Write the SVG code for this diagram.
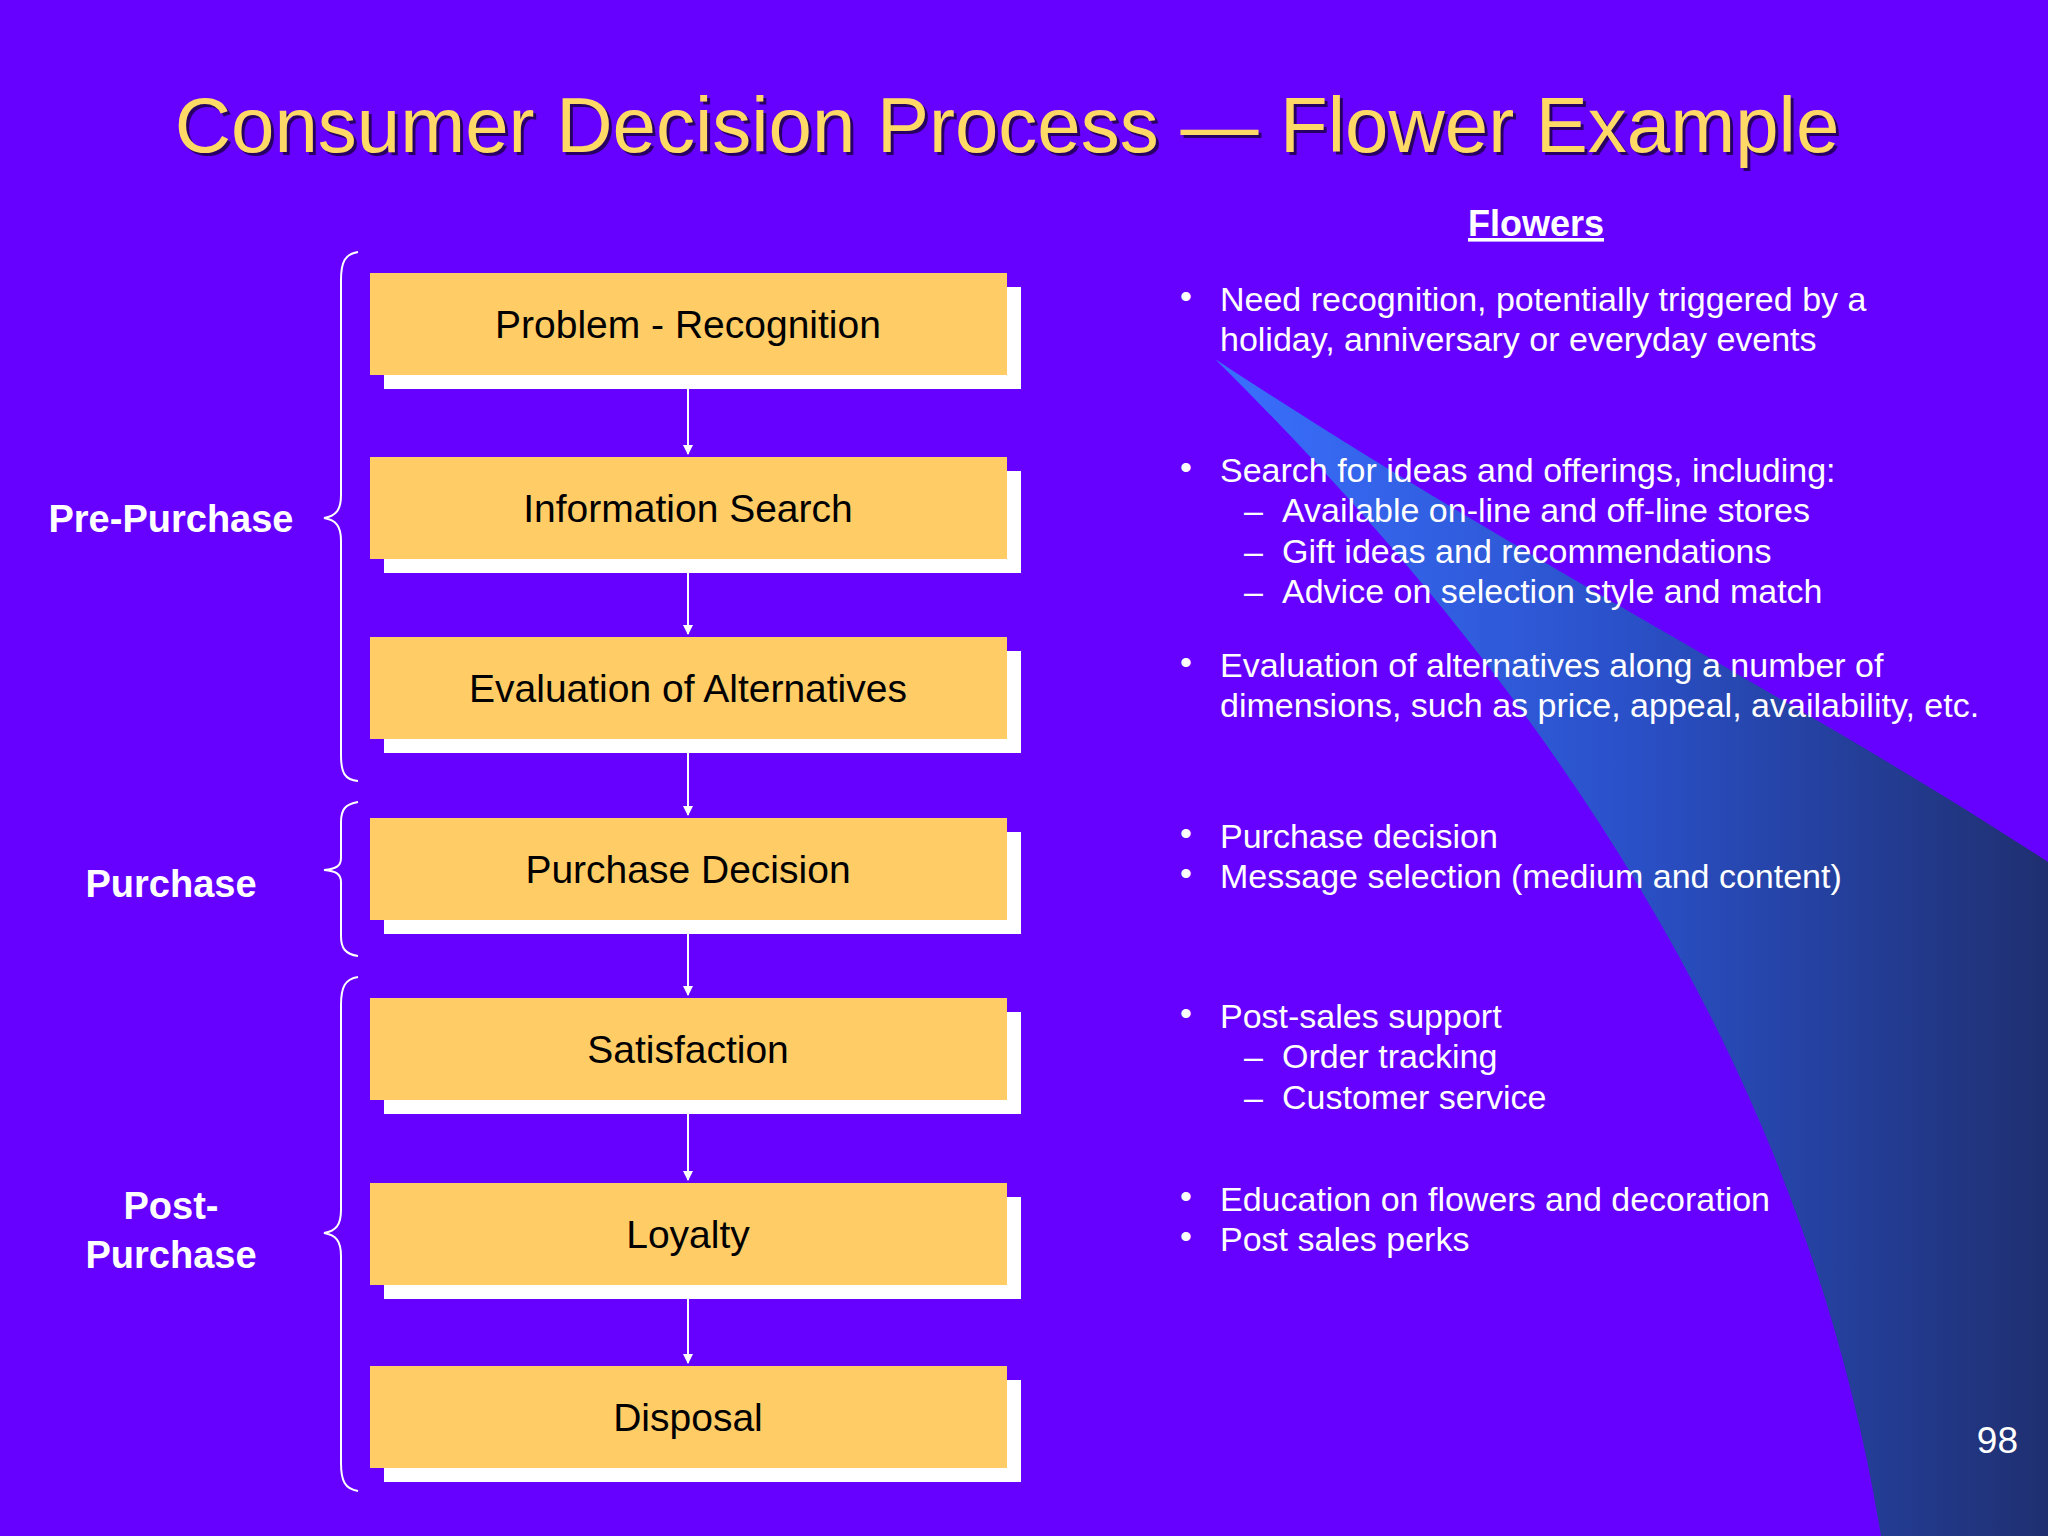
<svg xmlns="http://www.w3.org/2000/svg" width="2048" height="1536" viewBox="0 0 2048 1536">
<style>
.box{fill:#FFCC66}
.sh{fill:#FFFFFF}
.bt{font-family:"Liberation Sans",Arial,sans-serif;font-size:39px;fill:#000;text-anchor:middle}
.lab{font-family:"Liberation Sans",Arial,sans-serif;font-size:38px;font-weight:bold;fill:#fff;text-anchor:middle}
.rt{font-family:"Liberation Sans",Arial,sans-serif;font-size:34px;fill:#fff}
.br{fill:none;stroke:#fff;stroke-width:2}
.cn{stroke:#fff;stroke-width:2;marker-end:url(#ah)}
</style>
<defs>
<linearGradient id="g" x1="0" y1="0" x2="1" y2="0">
<stop offset="0" stop-color="#3a70ff"/><stop offset="0.5" stop-color="#2a50c8"/><stop offset="1" stop-color="#1f2f70"/>
</linearGradient>
<marker id="ah" markerWidth="10" markerHeight="10" refX="9" refY="5" orient="auto" markerUnits="userSpaceOnUse" viewBox="0 0 10 10"><path d="M0,0 L10,5 L0,10 z" fill="#fff"/></marker>
</defs>
<rect width="2048" height="1536" fill="#6600FF"/>
<path d="M1215,359 C1520,560 1800,700 2048,862 L2048,1536 L1881,1536 C1810,1100 1580,720 1215,359 Z" fill="url(#g)"/>
<text x="1007" y="152" font-family="Liberation Sans,Arial,sans-serif" font-size="78" fill="#000" text-anchor="middle" opacity="0.6" transform="translate(3,3)">Consumer Decision Process — Flower Example</text>
<text x="1007" y="152" font-family="Liberation Sans,Arial,sans-serif" font-size="78" fill="#FFD966" text-anchor="middle">Consumer Decision Process — Flower Example</text>
<g id="connectors">
<line class="cn" x1="688" y1="389" x2="688" y2="454"/>
<line class="cn" x1="688" y1="573" x2="688" y2="634"/>
<line class="cn" x1="688" y1="753" x2="688" y2="815"/>
<line class="cn" x1="688" y1="934" x2="688" y2="995"/>
<line class="cn" x1="688" y1="1114" x2="688" y2="1180"/>
<line class="cn" x1="688" y1="1299" x2="688" y2="1363"/>
</g>
<g id="n1"><rect class="sh" x="384" y="287" width="637" height="102"/><rect class="box" x="370" y="273" width="637" height="102"/><text class="bt" x="688" y="338">Problem - Recognition</text></g>
<g id="n2"><rect class="sh" x="384" y="471" width="637" height="102"/><rect class="box" x="370" y="457" width="637" height="102"/><text class="bt" x="688" y="522">Information Search</text></g>
<g id="n3"><rect class="sh" x="384" y="651" width="637" height="102"/><rect class="box" x="370" y="637" width="637" height="102"/><text class="bt" x="688" y="702">Evaluation of Alternatives</text></g>
<g id="n4"><rect class="sh" x="384" y="832" width="637" height="102"/><rect class="box" x="370" y="818" width="637" height="102"/><text class="bt" x="688" y="883">Purchase Decision</text></g>
<g id="n5"><rect class="sh" x="384" y="1012" width="637" height="102"/><rect class="box" x="370" y="998" width="637" height="102"/><text class="bt" x="688" y="1063">Satisfaction</text></g>
<g id="n6"><rect class="sh" x="384" y="1197" width="637" height="102"/><rect class="box" x="370" y="1183" width="637" height="102"/><text class="bt" x="688" y="1248">Loyalty</text></g>
<g id="n7"><rect class="sh" x="384" y="1380" width="637" height="102"/><rect class="box" x="370" y="1366" width="637" height="102"/><text class="bt" x="688" y="1431">Disposal</text></g>
<g id="braces">
<path class="br" d="M358,252 C345,254 341,262 341,280 L341,495 C341,510 336,516 324,518 C336,520 341,526 341,541 L341,755 C341,773 345,780 358,781"/>
<path class="br" d="M358,802 C345,804 341,810 341,822 L341,858 C341,866 336,869 324,870 C336,871 341,874 341,882 L341,936 C341,948 345,954 358,956"/>
<path class="br" d="M358,977 C345,979 341,987 341,1005 L341,1210 C341,1225 336,1231 324,1233 C336,1235 341,1241 341,1256 L341,1463 C341,1481 345,1489 358,1491"/>
</g>
<text class="lab" x="171" y="532">Pre-Purchase</text>
<text class="lab" x="171" y="897">Purchase</text>
<text class="lab" x="171" y="1219">Post-</text>
<text class="lab" x="171" y="1268">Purchase</text>
<text x="1536" y="236" font-family="Liberation Sans,Arial,sans-serif" font-size="36" font-weight="bold" fill="#fff" text-anchor="middle" text-decoration="underline">Flowers</text>
<g class="rt">
<text x="1180" y="308">•</text><text x="1220" y="311">Need recognition, potentially triggered by a</text>
<text x="1220" y="351">holiday, anniversary or everyday events</text>
<text x="1180" y="479">•</text><text x="1220" y="482">Search for ideas and offerings, including:</text>
<text x="1244" y="522">–</text><text x="1282" y="522">Available on-line and off-line stores</text>
<text x="1244" y="563">–</text><text x="1282" y="563">Gift ideas and recommendations</text>
<text x="1244" y="603">–</text><text x="1282" y="603">Advice on selection style and match</text>
<text x="1180" y="674">•</text><text x="1220" y="677">Evaluation of alternatives along a number of</text>
<text x="1220" y="717">dimensions, such as price, appeal, availability, etc.</text>
<text x="1180" y="845">•</text><text x="1220" y="848">Purchase decision</text>
<text x="1180" y="885">•</text><text x="1220" y="888">Message selection (medium and content)</text>
<text x="1180" y="1025">•</text><text x="1220" y="1028">Post-sales support</text>
<text x="1244" y="1068">–</text><text x="1282" y="1068">Order tracking</text>
<text x="1244" y="1109">–</text><text x="1282" y="1109">Customer service</text>
<text x="1180" y="1208">•</text><text x="1220" y="1211">Education on flowers and decoration</text>
<text x="1180" y="1248">•</text><text x="1220" y="1251">Post sales perks</text>
</g>
<text x="2018" y="1453" font-family="Liberation Sans,Arial,sans-serif" font-size="37" fill="#fff" text-anchor="end">98</text>
</svg>
